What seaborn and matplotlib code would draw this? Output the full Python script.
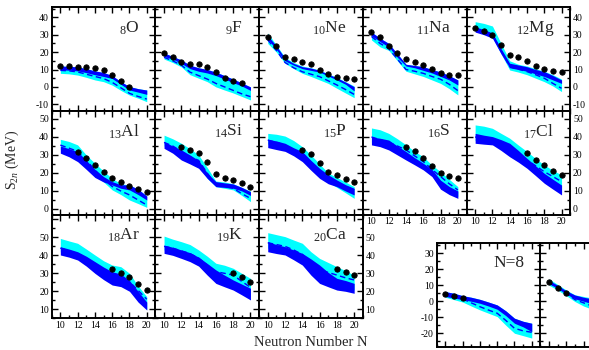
import seaborn as sns
import matplotlib.pyplot as plt
from matplotlib.ticker import MultipleLocator

sns.set_theme(style='ticks')
plt.rcParams['font.family'] = ['Liberation Serif', 'DejaVu Serif']
plt.rcParams['mathtext.fontset'] = 'custom'
plt.rcParams['mathtext.rm'] = 'Liberation Serif'
plt.rcParams['mathtext.it'] = 'Liberation Serif:italic'
plt.rcParams['axes.unicode_minus'] = False
plt.rcParams['axes.edgecolor'] = 'black'
plt.rcParams['xtick.color'] = 'black'
plt.rcParams['ytick.color'] = 'black'

# neutron number grid for the theory bands
N = [10, 11, 12, 13, 14, 15, 16, 17, 18, 19, 20]

# ---- Z=8 O
O_cyan_hi = [12, 11.8, 11.5, 10.5, 9.2, 8.3, 6.5, 3, 0.2, -1, -1.8]
O_blue_hi = [12, 11.8, 11.5, 10.5, 9.2, 8.3, 6.5, 3, 0.2, -1, -1.8]
O_blue_lo = [9.8, 9.6, 9.2, 8.2, 7, 6, 4.8, 1.5, -1.8, -3, -4.3]
O_cyan_lo = [7.8, 7.5, 6.8, 5.5, 4, 3, 1, -2, -4.7, -6.5, -8.5]
O_mid = [9.5, 9.2, 8.6, 7.3, 6, 4.8, 2.6, -0.5, -3.7, -5.5, -7]
O_exp_n = [10, 11, 12, 13, 14, 15, 16, 17, 18]
O_exp = [12.2, 12.0, 11.6, 11.5, 10.7, 9.7, 6.9, 3.6, -0.2]

# ---- Z=9 F
F_cyan_hi = [19.5, 17.5, 15.5, 12.5, 11, 10, 8.5, 6.5, 4.5, 2.3, 0]
F_blue_hi = [19.5, 17.5, 15.5, 12.5, 11, 10, 8.5, 6.5, 4.5, 2.3, 0]
F_blue_lo = [17.5, 16, 13.5, 10.5, 9, 8, 6.5, 4.5, 2.5, 0.5, -2]
F_cyan_lo = [16, 14, 11.5, 7, 5, 3, 0, -1.8, -3.5, -5.5, -7.5]
F_mid = [17, 15, 12.5, 8.5, 6.5, 4.5, 2, 0, -2, -4, -5.6]
F_exp_n = [10, 11, 12, 13, 14, 15, 16, 17, 18, 19]
F_exp = [19.7, 17.0, 14.5, 13.4, 13.0, 11.6, 8.4, 4.9, 3.4, 2.1]

# ---- Z=10 Ne
Ne_cyan_hi = [31, 24, 17, 14, 12, 11, 9.7, 7.5, 5.5, 3, 0.5]
Ne_blue_hi = [29.5, 23.5, 16.4, 13.5, 11.6, 10.8, 9.5, 7.3, 5.2, 2.8, 0.1]
Ne_blue_lo = [27.5, 21.5, 15, 12.5, 10.5, 9.5, 8.5, 6.3, 4, 1.5, -2.3]
Ne_cyan_lo = [25, 20, 13.6, 10.5, 7.8, 6, 4, 2, -0.8, -3.5, -6.2]
Ne_mid = [27, 21, 14, 11, 8.7, 7.3, 5.9, 3.5, 1.1, -1.5, -4.3]
Ne_exp_n = [10, 11, 12, 13, 14, 15, 16, 17, 18, 19, 20]
Ne_exp = [28.5, 23.7, 17.0, 15.9, 14.1, 13.4, 9.7, 7.2, 5.7, 4.9, 4.5]

# ---- Z=11 Na
Na_cyan_hi = [31.5, 28, 25, 19, 13, 12.3, 11.6, 10, 8.6, 6.5, 4]
Na_blue_hi = [31.5, 28, 25, 19, 13, 12.3, 11.6, 10, 8.6, 6.5, 4]
Na_blue_lo = [29.5, 26, 23, 17, 12, 11, 9.5, 8, 6, 4, 1.1]
Na_cyan_lo = [27, 23, 21, 15, 9, 7.5, 6, 4, 2, -1, -4.6]
Na_mid = [29, 25, 22, 16, 10, 9, 7.8, 6, 4.4, 1.5, -2.1]
Na_exp_n = [10, 11, 12, 13, 14, 15, 16, 17, 18, 19, 20]
Na_exp = [31.4, 28.5, 23.7, 19.7, 16.1, 14.5, 12.4, 10.3, 8.2, 6.9, 6.7]

# ---- Z=12 Mg
Mg_cyan_hi = [37.5, 36.5, 35, 25, 15, 13, 12, 10.5, 9, 7, 4.5]
Mg_blue_hi = [34.5, 33, 31, 22, 13.6, 12.6, 11.6, 10, 8.8, 6.5, 4]
Mg_blue_lo = [31.5, 30, 28, 19, 11, 10, 9, 7.5, 6, 4, 2]
Mg_cyan_lo = [32, 30.5, 28.5, 19, 9.7, 8.5, 7, 5, 3, 0.5, -2.7]
Mg_mid = [33.5, 32, 30, 21, 11.6, 10.2, 8.8, 7, 5, 2, -0.8]
Mg_exp_n = [10, 11, 12, 13, 14, 15, 16, 17, 18, 19, 20]
Mg_exp = [34.1, 32.3, 29.8, 24.1, 18.4, 17.4, 14.9, 12.2, 10.1, 9.2, 8.4]

# ---- Z=13 Al
Al_cyan_hi = [38.7, 37.5, 35.6, 30, 25.4, 21, 17, 14, 13.3, 11, 7.2]
Al_blue_hi = [35, 33.5, 31.9, 27, 22, 18, 15.2, 13.5, 13.3, 11, 7.2]
Al_blue_lo = [31, 29, 26.3, 22, 17.5, 15, 13.3, 11.5, 10.6, 8, 5]
Al_cyan_lo = [33, 31, 28, 23, 19, 15, 10.6, 8, 5, 3, 0.9]
Al_mid = [35.5, 33.8, 32, 27, 21.7, 16.5, 12.5, 10, 7.8, 5, 2.2]
Al_exp_n = [12, 13, 14, 15, 16, 17, 18, 19, 20]
Al_exp = [31.9, 28.5, 24.4, 20.7, 17.0, 15.2, 12.8, 11.1, 9.6]

# ---- Z=14 Si
Si_cyan_hi = [41, 39, 36.5, 33.5, 30, 23, 15.5, 15, 14, 12, 10]
Si_blue_hi = [37.4, 35, 32.8, 30, 27, 20, 15.2, 14.5, 13.9, 12, 9.6]
Si_blue_lo = [33.7, 31, 27.2, 25, 22.6, 17, 12.4, 12, 11.5, 10, 7.5]
Si_cyan_lo = [35, 33, 30, 27, 24, 17, 12.4, 11.5, 10.6, 7.5, 4.1]
Si_mid = [37, 35, 32, 29, 27, 20, 13.3, 12.5, 11.5, 8.5, 5.9]
Si_exp_n = [12, 13, 14, 15, 16, 17, 18, 19, 20]
Si_exp = [34.6, 32.8, 31.1, 26.3, 19.4, 17.4, 16.1, 14.6, 12.0]

# ---- Z=15 P
P_cyan_hi = [42, 41.5, 40.5, 38, 34.6, 30, 25, 20, 17.5, 15, 12.4]
P_blue_hi = [38.7, 37.8, 36.5, 34, 31.9, 27, 22.6, 19, 16.1, 13.5, 11.5]
P_blue_lo = [34.1, 33, 32, 29.5, 26.3, 21.5, 17, 14, 12.4, 10, 7.8]
P_cyan_lo = [36, 35, 33, 31, 28, 24, 18, 15, 12, 9, 5.9]
P_mid = [38.3, 37, 35.5, 33, 30.5, 26, 21, 17.5, 15, 12.5, 10.6]
P_exp_n = [14, 15, 16, 17, 18, 19, 20]
P_exp = [32.8, 30.4, 25.7, 20.7, 18.9, 16.7, 14.8]

# ---- Z=16 S
S_cyan_hi = [45, 44, 42, 39, 35.6, 32, 29, 24.4, 20.7, 16.5, 12.4]
S_blue_hi = [40, 39.3, 38.3, 35, 31.9, 28.5, 25.4, 22, 16, 12.5, 10]
S_blue_lo = [35.6, 34.6, 32.8, 30, 27.2, 24.5, 21.7, 18, 11, 8, 5.9]
S_cyan_lo = [37, 36, 35, 32, 29, 26, 23, 20, 15, 10, 7]
S_mid = [40, 38.5, 37, 35, 32.8, 29.5, 26.3, 22, 18, 14, 10.6]
S_exp_n = [14, 15, 16, 17, 18, 19, 20]
S_exp = [34.6, 32.2, 28.5, 23.9, 20.2, 18.3, 17.0]

# ---- Z=17 Cl
Cl_cyan_hi = [46.7, 46, 44.8, 42, 39.3, 35.5, 31.9, 28, 24.4, 21.5, 18.9]
Cl_blue_hi = [42, 41, 40.2, 38.5, 36.5, 32.5, 28.1, 24, 19.8, 16.5, 13.3]
Cl_blue_lo = [36.5, 36, 35.6, 32.5, 29, 26, 22.6, 18.5, 14.3, 11, 7.8]
Cl_cyan_lo = [38, 37.5, 37, 34, 31, 28, 25, 21, 17, 13, 9]
Cl_mid = [40, 39, 38, 36.5, 34.6, 31, 27.2, 24, 20.7, 18, 15.2]
Cl_exp_n = [16, 17, 18, 19, 20]
Cl_exp = [30.9, 27.2, 24.4, 21.3, 18.9]

# ---- Z=18 Ar
Ar_cyan_hi = [49.4, 48, 46.7, 43.5, 40.2, 37, 34.6, 33.7, 30, 23, 17]
Ar_blue_hi = [44.8, 43.5, 42, 39.5, 36.5, 33.5, 30.9, 29.6, 26, 20, 14]
Ar_blue_lo = [40.2, 39, 37.4, 34, 30, 26.5, 23.5, 22.6, 20, 14, 9.6]
Ar_cyan_lo = [42, 41, 39.5, 36.5, 33, 30, 27, 26, 22, 16, 10]
Ar_mid = [44, 42.5, 41, 38.5, 35.5, 32, 29, 27.5, 25.4, 20.5, 15.6]
Ar_exp_n = [16, 17, 18, 19, 20]
Ar_exp = [32.4, 30.0, 28.1, 24.1, 20.7]

# ---- Z=19 K
K_cyan_hi = [50.7, 49, 47.6, 46, 43, 39.5, 35.6, 34.5, 32.8, 30, 27.2]
K_blue_hi = [45.7, 44.5, 43, 41.5, 39, 35.5, 31.9, 29, 26.3, 24, 21.7]
K_blue_lo = [41.1, 40, 38.3, 36.5, 34, 29, 24.4, 22.5, 20.7, 18, 15.2]
K_cyan_lo = [43, 42, 40.5, 39, 36, 32, 28, 26, 24, 21, 17]
K_mid = [45, 44, 42.5, 41, 38.5, 34.5, 30.9, 30, 29, 25.5, 22.2]
K_exp_n = [18, 19, 20]
K_exp = [30.0, 27.8, 25.4]

# ---- Z=20 Ca
Ca_cyan_hi = [52.6, 51.5, 50.4, 48.5, 46.7, 42, 38.3, 36, 33.7, 31.5, 29]
Ca_blue_hi = [47.6, 46, 44.8, 43, 41.1, 38, 34.6, 30.5, 27.2, 26, 24.4]
Ca_blue_lo = [42, 41, 40.2, 37.5, 34.6, 29, 24.4, 22.5, 20.7, 20, 18.9]
Ca_cyan_lo = [44, 43, 42, 40, 37, 32, 27, 25, 23, 22, 20.7]
Ca_mid = [47, 46, 45, 43, 40.5, 36, 31.9, 30.5, 29, 27.5, 26.3]
Ca_exp_n = [18, 19, 20]
Ca_exp = [32.2, 30.9, 29.0]

# ---- isotone N=8 (x axis is Z)
N8_cyan_hi = [6, 5, 3.5, 2.5, 1.2, -0.5, -2.3, -6, -10.6, -12.5, -13.75]
N8_blue_hi = [6, 5, 3.5, 2.5, 1.2, -0.5, -2.3, -6, -10.6, -12.5, -13.75]
N8_blue_lo = [3, 2, 1, 0, -1.25, -3, -5, -9, -13.75, -16, -19]
N8_cyan_lo = [2.5, 1, -0.5, -3, -5.4, -7.5, -9.6, -15, -20, -21.5, -23]
N8_mid = [4, 3, 1.5, -1, -3.4, -5.5, -7.5, -12, -16.9, -18.5, -19.4]
N8_exp_n = [10, 11, 12]
N8_exp = [4.4, 3.3, 2.3]

# ---- isotone N=10 (cut off at the right edge)
N10_cyan_hi = [14, 10.5, 7, 4, 3, 2, -1, -5, -9, -12, -14]
N10_blue_hi = [13, 10, 6.5, 3.9, 2.5, 1.5, -1.5, -5.5, -9.5, -12.5, -14.5]
N10_blue_lo = [11, 8, 4.5, 1.5, 0, -1.5, -4, -8, -12, -15, -17]
N10_cyan_lo = [10, 7, 3.5, -0.2, -3, -5, -8, -12, -16, -19, -22]
N10_mid = [11.5, 8.5, 5, 1, -1, -3, -6, -10, -14, -17, -20]
N10_exp_n = [10, 11, 12]
N10_exp = [12.1, 8.5, 5.4]

W, H = 589.0, 350.0
fig = plt.figure(figsize=(5.89, 3.5), dpi=100)


def box(x0, y0, x1, y1):
    return [x0 / W, 1 - y1 / H, (x1 - x0) / W, (y1 - y0) / H]


cols = [51.7, 155.4, 259.1, 362.8, 466.5, 570.2]
rows = [(7.3, 110.5), (110.5, 214.5), (214.5, 318.3)]
ylims = [(-13.56, 45.75), (-3.06, 54.7), (5.0, 62.7)]

panels = [
    # label, row, col, data
    (r'$_{8}$O', 0, 0, (O_cyan_lo, O_cyan_hi, O_blue_lo, O_blue_hi, O_mid, O_exp_n, O_exp)),
    (r'$_{9}$F', 0, 1, (F_cyan_lo, F_cyan_hi, F_blue_lo, F_blue_hi, F_mid, F_exp_n, F_exp)),
    (r'$_{10}$Ne', 0, 2, (Ne_cyan_lo, Ne_cyan_hi, Ne_blue_lo, Ne_blue_hi, Ne_mid, Ne_exp_n, Ne_exp)),
    (r'$_{11}$Na', 0, 3, (Na_cyan_lo, Na_cyan_hi, Na_blue_lo, Na_blue_hi, Na_mid, Na_exp_n, Na_exp)),
    (r'$_{12}$Mg', 0, 4, (Mg_cyan_lo, Mg_cyan_hi, Mg_blue_lo, Mg_blue_hi, Mg_mid, Mg_exp_n, Mg_exp)),
    (r'$_{13}$Al', 1, 0, (Al_cyan_lo, Al_cyan_hi, Al_blue_lo, Al_blue_hi, Al_mid, Al_exp_n, Al_exp)),
    (r'$_{14}$Si', 1, 1, (Si_cyan_lo, Si_cyan_hi, Si_blue_lo, Si_blue_hi, Si_mid, Si_exp_n, Si_exp)),
    (r'$_{15}$P', 1, 2, (P_cyan_lo, P_cyan_hi, P_blue_lo, P_blue_hi, P_mid, P_exp_n, P_exp)),
    (r'$_{16}$S', 1, 3, (S_cyan_lo, S_cyan_hi, S_blue_lo, S_blue_hi, S_mid, S_exp_n, S_exp)),
    (r'$_{17}$Cl', 1, 4, (Cl_cyan_lo, Cl_cyan_hi, Cl_blue_lo, Cl_blue_hi, Cl_mid, Cl_exp_n, Cl_exp)),
    (r'$_{18}$Ar', 2, 0, (Ar_cyan_lo, Ar_cyan_hi, Ar_blue_lo, Ar_blue_hi, Ar_mid, Ar_exp_n, Ar_exp)),
    (r'$_{19}$K', 2, 1, (K_cyan_lo, K_cyan_hi, K_blue_lo, K_blue_hi, K_mid, K_exp_n, K_exp)),
    (r'$_{20}$Ca', 2, 2, (Ca_cyan_lo, Ca_cyan_hi, Ca_blue_lo, Ca_blue_hi, Ca_mid, Ca_exp_n, Ca_exp)),
]


def draw(ax, d):
    c_lo, c_hi, b_lo, b_hi, mid, en, ev = d
    ax.fill_between(N, c_lo, c_hi, color='#00ffff', lw=0, zorder=1)
    ax.fill_between(N, b_lo, b_hi, color='#0000ff', lw=0, zorder=2)
    sns.lineplot(x=N, y=mid, ax=ax, color='#0000ff', lw=1.0,
                 linestyle=(0, (4, 2.5)), zorder=3)
    sns.scatterplot(x=en, y=ev, ax=ax, color='black', s=15, marker='o',
                    edgecolor='black', linewidth=0.6, zorder=4)


def style(ax, ylim, left=False, right=False, bottom=False, hide_top_label=None):
    ax.set_xlim(9, 21)
    ax.set_ylim(*ylim)
    ax.xaxis.set_major_locator(MultipleLocator(2))
    ax.xaxis.set_minor_locator(MultipleLocator(1))
    ax.yaxis.set_major_locator(MultipleLocator(10))
    ax.yaxis.set_minor_locator(MultipleLocator(5))
    ax.tick_params(which='both', direction='in', top=True, right=True,
                   labelleft=left, labelright=right, labelbottom=bottom,
                   labelsize=7, pad=2, width=1.0)
    ax.tick_params(which='major', length=4.5)
    ax.tick_params(which='minor', length=2.5)
    for sp in ax.spines.values():
        sp.set_linewidth(1.4)
        sp.set_visible(True)
    ax.set_xlabel('')
    ax.set_ylabel('')
    if hide_top_label is not None:
        ticks = [t for t in range(-30, 70, 10) if ylim[0] <= t <= ylim[1]]
        ax.set_yticks(ticks, [str(t) if t != hide_top_label else '' for t in ticks])


for label, r, c, d in panels:
    y0, y1 = rows[r]
    ax = fig.add_axes(box(cols[c], y0, cols[c + 1], y1))
    draw(ax, d)
    style(ax, ylims[r],
          left=(c == 0),
          right=(r == 0 and c == 4) or (r == 1 and c == 4) or (r == 2 and c == 2),
          bottom=(r == 2) or (r == 1 and c >= 3),
          hide_top_label=60 if r == 2 else None)
    ax.text(0.845, 0.885, label, transform=ax.transAxes, ha='right', va='top',
            fontsize=12.5)

# bottom right isotone panels
ax8 = fig.add_axes(box(436.7, 242.7, 540.4, 346.7))
draw(ax8, (N8_cyan_lo, N8_cyan_hi, N8_blue_lo, N8_blue_hi, N8_mid, N8_exp_n, N8_exp))
style(ax8, (-28.4, 36.6), left=True)
ax8.text(0.845, 0.885, 'N=8', transform=ax8.transAxes, ha='right', va='top',
         fontsize=12.5)

ax10 = fig.add_axes(box(540.4, 242.7, 644.1, 346.7))
draw(ax10, (N10_cyan_lo, N10_cyan_hi, N10_blue_lo, N10_blue_hi, N10_mid, N10_exp_n, N10_exp))
style(ax10, (-28.4, 36.6))

fig.text(12 / W, 1 - 160 / H, r'S$_{2n}$ (MeV)', rotation=90, ha='center',
         va='center', fontsize=10)
fig.text(311 / W, 1 - 343 / H, 'Neutron Number N', ha='center', va='center',
         fontsize=10.5)

fig.savefig('out.png', dpi=100)
